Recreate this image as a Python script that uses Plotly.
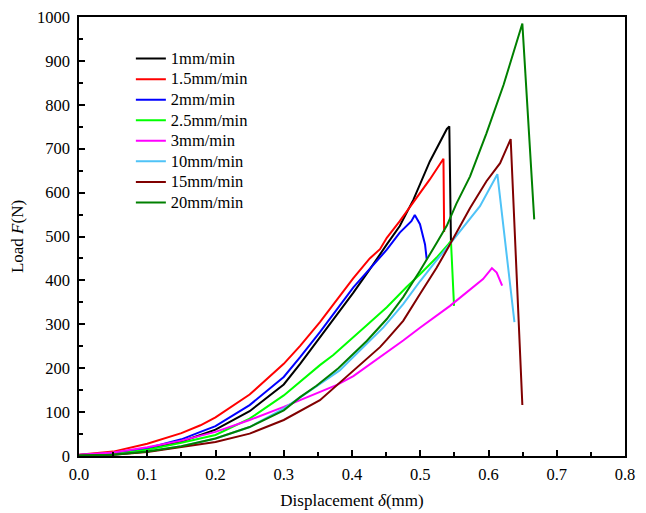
import plotly.graph_objects as go

# ---- data (displacement in mm, load in N) ----
x_1 = [0, 0.05, 0.1, 0.15, 0.178, 0.2, 0.25, 0.3, 0.324, 0.353, 0.402, 0.426, 0.441, 0.451, 0.47, 0.49, 0.514, 0.529, 0.539, 0.5426, 0.545]
y_1 = [2, 5, 15, 33, 48, 60, 102, 163, 210, 270, 372, 425, 460, 482, 524, 584, 671, 717, 745, 751, 487]

x_15 = [0, 0.05, 0.1, 0.15, 0.178, 0.2, 0.25, 0.3, 0.324, 0.341, 0.353, 0.402, 0.426, 0.441, 0.451, 0.47, 0.49, 0.514, 0.534, 0.535]
y_15 = [3, 10, 28, 52, 70, 88, 140, 210, 251, 283, 305, 405, 450, 471, 497, 535, 577, 630, 677, 510]

x_2 = [0, 0.05, 0.1, 0.15, 0.178, 0.2, 0.25, 0.3, 0.324, 0.353, 0.402, 0.426, 0.441, 0.451, 0.47, 0.487, 0.492, 0.4996, 0.507, 0.5095]
y_2 = [2, 6, 18, 38, 55, 68, 116, 180, 225, 282, 384, 426, 452, 470, 509, 535, 549, 528, 482, 448]

x_25 = [0, 0.05, 0.1, 0.15, 0.2, 0.25, 0.3, 0.324, 0.353, 0.3726, 0.402, 0.4216, 0.451, 0.47, 0.48, 0.4996, 0.524, 0.541, 0.545, 0.5495]
y_25 = [2, 4, 14, 30, 48, 85, 138, 169, 207, 230, 270, 298, 339, 370, 385, 414, 452, 482, 490, 342]

x_3 = [0, 0.05, 0.1, 0.15, 0.2, 0.25, 0.3, 0.35, 0.378, 0.402, 0.451, 0.475, 0.4996, 0.5436, 0.592, 0.605, 0.612, 0.62]
y_3 = [3, 8, 20, 35, 55, 82, 112, 145, 162, 182, 235, 263, 292, 342, 403, 428, 418, 388]

x_10 = [0, 0.05, 0.1, 0.15, 0.2, 0.25, 0.3, 0.348, 0.382, 0.397, 0.446, 0.475, 0.4996, 0.524, 0.541, 0.5875, 0.613, 0.638]
y_10 = [1, 3, 10, 22, 40, 66, 108, 160, 195, 218, 293, 346, 398, 446, 478, 569, 642, 305]

x_15b = [0, 0.05, 0.1, 0.15, 0.2, 0.25, 0.3, 0.353, 0.397, 0.412, 0.441, 0.451, 0.475, 0.4996, 0.524, 0.541, 0.573, 0.597, 0.617, 0.6325, 0.6496]
y_15b = [1, 3, 9, 20, 32, 51, 82, 127, 187, 207, 248, 265, 308, 369, 429, 475, 565, 626, 667, 722, 116]

x_20 = [0, 0.05, 0.1, 0.15, 0.2, 0.25, 0.3, 0.324, 0.348, 0.38, 0.4216, 0.451, 0.475, 0.4996, 0.524, 0.539, 0.553, 0.573, 0.597, 0.622, 0.6496, 0.667]
y_20 = [1, 3, 10, 22, 40, 66, 104, 134, 160, 200, 262, 312, 362, 422, 485, 525, 575, 637, 735, 845, 985, 539]

series_names = ["1mm/min", "1.5mm/min", "2mm/min", "2.5mm/min", "3mm/min", "10mm/min", "15mm/min", "20mm/min"]
series_x = [x_1, x_15, x_2, x_25, x_3, x_10, x_15b, x_20]
series_y = [y_1, y_15, y_2, y_25, y_3, y_10, y_15b, y_20]
series_colors = ["#000000", "#FF0000", "#0000FF", "#00FF00", "#FF00FF", "#4FC3F7", "#800000", "#008000"]

x_ticks = [0, 0.1, 0.2, 0.3, 0.4, 0.5, 0.6, 0.7, 0.8]
y_ticks = [0, 100, 200, 300, 400, 500, 600, 700, 800, 900, 1000]

FONT = "Liberation Serif, Times New Roman, serif"
TXT = 16.5

fig = go.Figure()
for name, xs, ys, c in zip(series_names, series_x, series_y, series_colors):
    fig.add_trace(go.Scatter(
        x=xs, y=ys, mode="lines",
        name='<span style="font-size:16.5px">' + name + '</span>',
        line=dict(color=c, width=2)))

axis_common = dict(
    showline=True, linecolor="black", linewidth=1.5, mirror=True,
    ticks="inside", ticklen=6, tickwidth=1.5, tickcolor="black",
    showgrid=False, zeroline=False, automargin=False,
    ticklabeloverflow="allow",
    tickfont=dict(family=FONT, size=TXT, color="black"),
)

fig.update_layout(
    width=638, height=505,
    margin=dict(l=71, r=21, t=9, b=57),
    paper_bgcolor="white", plot_bgcolor="white",
    font=dict(family=FONT, size=TXT, color="black"),
    xaxis=dict(range=[0, 0.8], tickvals=x_ticks, tickformat=".1f",
               ticklabelstandoff=2,
               minor=dict(ticks="inside", ticklen=4, tickwidth=1.5, tickcolor="black", dtick=0.05),
               title=dict(text="Displacement <i>δ</i>(mm)", font=dict(family=FONT, size=17), standoff=12),
               **axis_common),
    yaxis=dict(range=[0, 1000], tickvals=y_ticks,
               ticklabelstandoff=4,
               minor=dict(ticks="inside", ticklen=4, tickwidth=1.5, tickcolor="black", dtick=50),
               title=dict(text="Load <i>F</i>(N)", font=dict(family=FONT, size=17), standoff=16),
               **axis_common),
    legend=dict(x=0.095, y=0.94, xanchor="left", yanchor="top",
                bgcolor="rgba(0,0,0,0)", borderwidth=0,
                font=dict(family=FONT, size=13.5, color="black"),
                tracegroupgap=0),
    showlegend=True,
)

fig.write_html("out.html")
